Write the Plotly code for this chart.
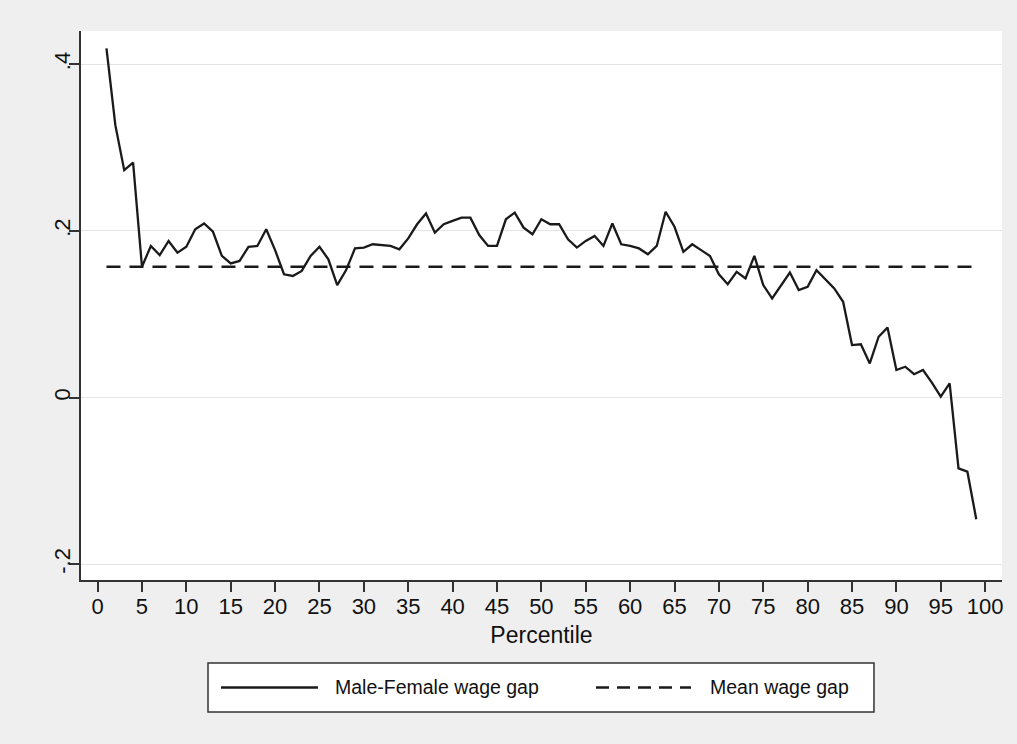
import plotly.graph_objects as go

# ---- data ----
percentile = list(range(1, 100))
wage_gap = [
    0.419, 0.327, 0.273, 0.282, 0.157, 0.182, 0.171, 0.188, 0.174, 0.181,
    0.202, 0.209, 0.199, 0.170, 0.161, 0.164, 0.181, 0.182, 0.202, 0.177,
    0.148, 0.146, 0.152, 0.170, 0.181, 0.166, 0.135, 0.153, 0.179, 0.180,
    0.184, 0.183, 0.182, 0.178, 0.191, 0.208, 0.221, 0.198, 0.208, 0.212,
    0.216, 0.216, 0.195, 0.182, 0.182, 0.214, 0.222, 0.204, 0.196, 0.214,
    0.208, 0.208, 0.190, 0.180, 0.188, 0.194, 0.182, 0.209, 0.184, 0.182,
    0.179, 0.172, 0.182, 0.223, 0.205, 0.175, 0.184, 0.177, 0.170, 0.148,
    0.136, 0.151, 0.143, 0.170, 0.135, 0.119, 0.135, 0.150, 0.129, 0.133,
    0.153, 0.142, 0.131, 0.115, 0.063, 0.064, 0.041, 0.073, 0.084, 0.033,
    0.037, 0.028, 0.033, 0.018, 0.001, 0.017, -0.085, -0.089, -0.146,
]
mean_gap = 0.157

x_ticks = list(range(0, 101, 5))
y_tick_vals = [-0.2, 0, 0.2, 0.4]
y_tick_text = ["-.2", "0", ".2", ".4"]

series_names = ["Male-Female wage gap", "Mean wage gap"]

FONT = "Liberation Sans, Arial, Helvetica, sans-serif"
BG = "#efefef"
INK = "#1a1a1a"
DASH = "14px,9px"

fig = go.Figure()
fig.add_trace(go.Scatter(
    x=percentile, y=wage_gap, mode="lines", name=series_names[0],
    line=dict(color=INK, width=2.3), showlegend=False,
))
fig.add_trace(go.Scatter(
    x=[percentile[0], percentile[-1]], y=[mean_gap, mean_gap], mode="lines",
    name=series_names[1], showlegend=False,
    line=dict(color=INK, width=2.3, dash=DASH),
))

# ---- legend box drawn in paper coordinates (Stata-style wide key) ----
box = dict(x0=0.1379, x1=0.8610, y0=-0.2404, y1=-0.1512)
key_y = (box["y0"] + box["y1"]) / 2
keys = [
    dict(x0=0.1520, x1=0.2573, dash="solid", tx=0.2736, name=series_names[0]),
    dict(x0=0.5592, x1=0.6623, dash="13px,8px", tx=0.6808, name=series_names[1]),
]
fig.add_shape(type="rect", xref="paper", yref="paper", **box,
              line=dict(color="#333333", width=1.5), fillcolor="white", layer="above")
for k in keys:
    fig.add_shape(type="line", xref="paper", yref="paper",
                  x0=k["x0"], x1=k["x1"], y0=key_y, y1=key_y,
                  line=dict(color=INK, width=2.3, dash=k["dash"]))
    fig.add_annotation(xref="paper", yref="paper", x=k["tx"], y=key_y,
                       xanchor="left", yanchor="middle", showarrow=False,
                       text=k["name"], font=dict(family=FONT, size=19.5, color="#111111"))

fig.update_layout(
    width=1017, height=744,
    paper_bgcolor=BG, plot_bgcolor="white",
    margin=dict(l=81, r=15, t=31, b=164, autoexpand=False),
    font=dict(family=FONT, color="#111111"),
    showlegend=False,
    xaxis=dict(
        range=[-1.87, 101.9], tickmode="array", tickvals=x_ticks,
        ticks="outside", ticklen=10, tickwidth=1.5, tickcolor="#333333",
        showline=True, linecolor="#333333", linewidth=1.5,
        showgrid=False, zeroline=False,
        tickfont=dict(size=22, color="#111111"),
        ticklabelstandoff=-4,
        title=dict(text="Percentile", font=dict(size=23, color="#111111"), standoff=9),
        automargin=False,
    ),
    yaxis=dict(
        range=[-0.219, 0.440], tickmode="array", tickvals=y_tick_vals, ticktext=y_tick_text,
        ticks="outside", ticklen=10, tickwidth=1.5, tickcolor="#333333",
        showline=True, linecolor="#333333", linewidth=1.5,
        showgrid=True, gridcolor="#e4e4e4", gridwidth=1.2,
        zeroline=False, tickangle=-90, ticklabelstandoff=-10,
        tickfont=dict(size=22, color="#111111"),
        automargin=False,
    ),
)

fig.write_html("out.html", config={"displayModeBar": False},
               post_script="document.body.style.margin='0';")
